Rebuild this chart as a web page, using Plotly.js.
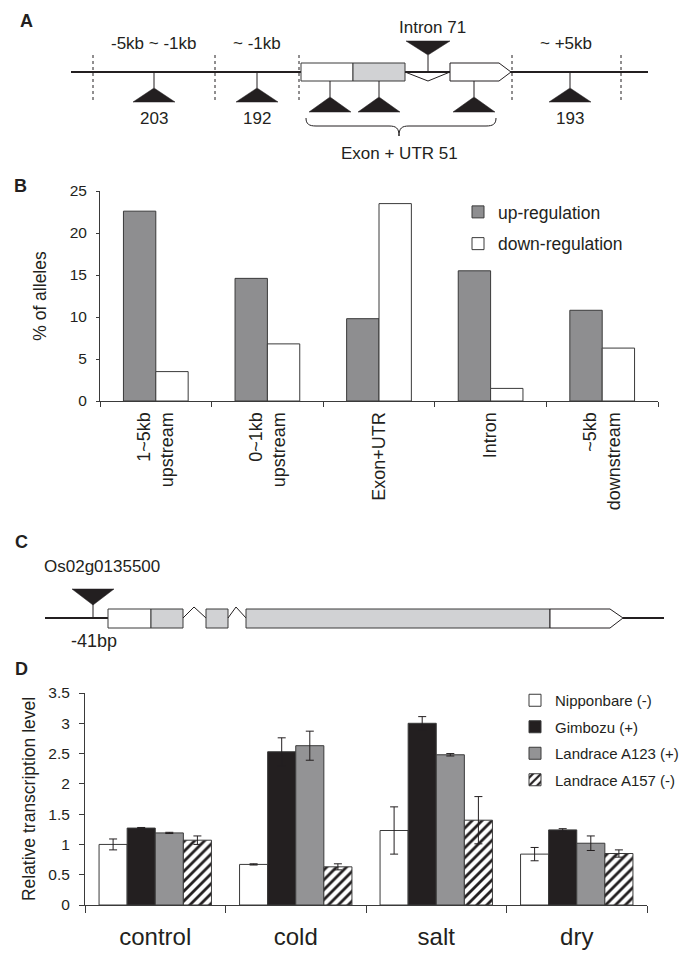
<!DOCTYPE html>
<html><head><meta charset="utf-8">
<script src="https://cdn.plot.ly/plotly-3.0.1.min.js"></script>
<style>html,body{margin:0;padding:0;background:#fff}#chart{width:689px;height:962px}</style>
</head><body><div id="chart"></div>
<script>
// ---------- DATA ----------
// Panel A
const A_regionLabels = ['-5kb ~ -1kb', '~ -1kb', '~ +5kb'];
const A_regionCounts = [203, 192, 193];
const A_intronLabel = 'Intron';
const A_intronCount = 71;
const A_exonLabel = 'Exon + UTR';
const A_exonCount = 51;
// Panel B
const B_categories = ['1~5kb<br>upstream', '0~1kb<br>upstream', 'Exon+UTR', 'Intron', '~5kb<br>downstream'];
const B_up = [22.6, 14.6, 9.8, 15.5, 10.8];
const B_down = [3.5, 6.8, 23.5, 1.5, 6.3];
const B_seriesNames = ['up-regulation', 'down-regulation'];
const B_yTitle = '% of alleles';
const B_yTicks = [0, 5, 10, 15, 20, 25];
// Panel C
const C_gene = 'Os02g0135500';
const C_position = '-41bp';
// Panel D
const D_conditions = ['control', 'cold', 'salt', 'dry'];
const D_names = ['Nipponbare (-)', 'Gimbozu (+)', 'Landrace A123 (+)', 'Landrace A157 (-)'];
const D_nipponbare = [1.00, 0.67, 1.23, 0.84];
const D_nipponbareErr = [0.09, 0.01, 0.39, 0.11];
const D_gimbozu = [1.27, 2.53, 3.00, 1.24];
const D_gimbozuErr = [0.01, 0.23, 0.11, 0.02];
const D_a123 = [1.19, 2.63, 2.48, 1.02];
const D_a123Err = [0.01, 0.24, 0.02, 0.12];
const D_a157 = [1.07, 0.63, 1.40, 0.85];
const D_a157Err = [0.07, 0.05, 0.39, 0.06];
const D_yTitle = 'Relative transcription level';
const D_yTicks = [0, 0.5, 1, 1.5, 2, 2.5, 3, 3.5];

// ---------- STYLE / GEOMETRY ----------
const INK = '#231f20';
const AXIS = '#3a3a3a';
const LIGHTGRAY = '#d1d2d4';
const FONT = 'Liberation Sans, Arial, Helvetica, sans-serif';
const W = 689, H = 962;
const px = v => v / W, py = v => 1 - v / H;

const shapes = [];
const annotations = [];
function line(x0, y0, x1, y1, opts) {
  shapes.push(Object.assign({type: 'line', xref: 'x3', yref: 'y3', x0, y0, x1, y1,
    line: {color: INK, width: 1}}, opts || {}));
}
function path(d, fill, lw) {
  shapes.push({type: 'path', xref: 'x3', yref: 'y3', path: d,
    fillcolor: fill || 'rgba(0,0,0,0)', line: {color: INK, width: lw === undefined ? 1 : lw}});
}
function triUp(x, yApex, h, hw) {
  path(`M${x - hw},${yApex + h} L${x},${yApex} L${x + hw},${yApex + h} Z`, INK, 0.5);
}
function triDown(x, yBase, h, hw) {
  path(`M${x - hw},${yBase} L${x},${yBase + h} L${x + hw},${yBase} Z`, INK, 0.5);
}
function rect(x0, y0, x1, y1, fill) {
  shapes.push({type: 'rect', xref: 'x3', yref: 'y3', x0, y0, x1, y1, fillcolor: fill,
    line: {color: AXIS, width: 1}});
}
function text(x, y, t, size, opts) {
  annotations.push(Object.assign({xref: 'x3', yref: 'y3', x, y, text: t, showarrow: false,
    font: {family: FONT, size: size, color: INK}}, opts || {}));
}

// Panel A geometry
const A_lineY = 72;
line(71, A_lineY, 648, A_lineY, {line: {color: INK, width: 2}});
[93, 215, 299, 512, 621].forEach(x => line(x, 55, x, 100, {line: {color: INK, width: 1, dash: '3px,3px'}}));
const A_regionX = [154, 257, 570];
A_regionX.forEach((x, i) => {
  line(x, A_lineY, x, 88);
  triUp(x, 88, 14, 21);
  text(x, 118, String(A_regionCounts[i]), 17);
});
const A_labelX = [154, 257, 566];
A_labelX.forEach((x, i) => text(x, 43, A_regionLabels[i], 17));
// exons
rect(301, 63, 353, 81, 'white');
rect(353, 63, 405, 81, LIGHTGRAY);
path('M405,72 L428,81 L450,72', null, 1);
path('M450,63 L499,63 L511,72 L499,81 L450,81 Z', 'white', 1);
[330, 379, 474].forEach(x => { line(x, 81, x, 97); triUp(x, 97, 15, 21); });
// intron marker
line(428, 55, 428, 72);
triDown(428, 41, 14, 22);
text(432, 27, A_intronLabel + ' ' + A_intronCount, 17);
// brace
path('M306,118 C306,124 309,126 316,126 L389,126 C396,126 399,128 399,136 C399,128 402,126 409,126 L486,126 C493,126 496,124 496,118', null, 1);
text(399, 153, A_exonLabel + ' ' + A_exonCount, 17);

// Panel C geometry
const C_lineY = 618;
line(45, C_lineY, 108, C_lineY, {line: {color: INK, width: 2}});
line(623, C_lineY, 664, C_lineY, {line: {color: INK, width: 2}});
rect(108, 609, 151, 628, 'white');
rect(151, 609, 183, 628, LIGHTGRAY);
path('M183,618 L194,607 L206,618', null, 1);
rect(206, 609, 228, 628, LIGHTGRAY);
path('M228,618 L236,607 L246,618', null, 1);
rect(246, 609, 550, 628, LIGHTGRAY);
path('M550,609 L610,609 L623,618 L610,628 L550,628 Z', 'white', 1);
line(93, 604, 93, C_lineY);
triDown(93, 589, 16, 21);
text(42, 566, C_gene, 17, {xanchor: 'left'});
text(94, 641, C_position, 18);

// Panel letters
[['A', 26, 21], ['B', 20, 186], ['C', 21, 542], ['D', 21, 669]].forEach(([t, x, y]) =>
  text(x, y, '<b>' + t + '</b>', 18));

// ---------- TRACES ----------
const barLine = {color: AXIS, width: 1};
const errStyle = (arr) => ({type: 'data', array: arr, visible: true, color: INK, thickness: 1, width: 4});
const traces = [
  {type: 'bar', x: B_categories, y: B_up, name: B_seriesNames[0], xaxis: 'x', yaxis: 'y',
   width: 0.29, offset: -0.29, marker: {color: '#8e8e90', line: barLine}, legend: 'legend',
   legendgroup: 'bu'},
  {type: 'bar', x: B_categories, y: B_down, name: B_seriesNames[1], xaxis: 'x', yaxis: 'y',
   width: 0.29, offset: 0, marker: {color: 'white', line: barLine}, legend: 'legend',
   legendgroup: 'bd'},
  {type: 'bar', x: D_conditions, y: D_nipponbare, name: D_names[0], xaxis: 'x2', yaxis: 'y2',
   width: 0.2, offset: -0.4, marker: {color: 'white', line: barLine}, legend: 'legend2',
   legendgroup: 'd0', error_y: errStyle(D_nipponbareErr)},
  {type: 'bar', x: D_conditions, y: D_gimbozu, name: D_names[1], xaxis: 'x2', yaxis: 'y2',
   width: 0.2, offset: -0.2, marker: {color: INK, line: barLine}, legend: 'legend2',
   legendgroup: 'd1', error_y: errStyle(D_gimbozuErr)},
  {type: 'bar', x: D_conditions, y: D_a123, name: D_names[2], xaxis: 'x2', yaxis: 'y2',
   width: 0.2, offset: 0, marker: {color: '#939395', line: barLine}, legend: 'legend2',
   legendgroup: 'd2', error_y: errStyle(D_a123Err)},
  {type: 'bar', x: D_conditions, y: D_a157, name: D_names[3], xaxis: 'x2', yaxis: 'y2',
   width: 0.2, offset: 0.2, legend: 'legend2', legendgroup: 'd3',
   marker: {color: 'white', line: barLine,
     pattern: {shape: '/', fgcolor: INK, bgcolor: 'white', size: 7, solidity: 0.4}},
   error_y: errStyle(D_a157Err)},
  {type: 'scatter', x: [], y: [], xaxis: 'x3', yaxis: 'y3', showlegend: false, hoverinfo: 'skip'}
];

const axCommon = {showgrid: false, zeroline: false, showline: true, linecolor: AXIS, linewidth: 1,
  ticks: 'outside', tickcolor: AXIS, tickwidth: 1, fixedrange: true};

const layout = {
  width: W, height: H, margin: {l: 0, r: 0, t: 0, b: 0},
  paper_bgcolor: 'white', plot_bgcolor: 'rgba(0,0,0,0)',
  font: {family: FONT, color: INK},
  barmode: 'overlay', showlegend: true,
  xaxis: Object.assign({}, axCommon, {domain: [px(100), px(658)], anchor: 'y', type: 'category',
    tickson: 'boundaries', ticklen: 5, tickangle: -90, ticklabelstandoff: 3,
    tickfont: {size: 18, color: INK}, range: [-0.5, 4.5]}),
  yaxis: Object.assign({}, axCommon, {domain: [py(401), py(191)], anchor: 'x', range: [0, 25],
    tickvals: B_yTicks, ticklen: 3, ticklabelstandoff: 6, tickfont: {size: 15.5, color: INK},
    title: {text: B_yTitle, font: {size: 17.5, color: INK}, standoff: 18}}),
  xaxis2: Object.assign({}, axCommon, {domain: [px(85), px(647)], anchor: 'y2', type: 'category',
    tickson: 'boundaries', ticklen: 7, ticklabelstandoff: 10,
    tickfont: {size: 24, color: INK}, range: [-0.5, 3.5]}),
  yaxis2: Object.assign({}, axCommon, {domain: [py(905), py(693)], anchor: 'x2', range: [0, 3.5],
    tickvals: D_yTicks, ticktext: D_yTicks.map(String), ticklen: 5, ticklabelstandoff: 6,
    tickfont: {size: 15.5, color: INK},
    title: {text: D_yTitle, font: {size: 17.5, color: INK}, standoff: 8}}),
  xaxis3: {domain: [0, 1], range: [0, W], visible: false, fixedrange: true, anchor: 'y3'},
  yaxis3: {domain: [0, 1], range: [H, 0], visible: false, fixedrange: true, anchor: 'x3'},
  legend: {x: px(458), y: py(194), xanchor: 'left', yanchor: 'top', bgcolor: 'rgba(0,0,0,0)',
    font: {size: 17.5, color: INK}, tracegroupgap: 6, traceorder: 'grouped'},
  legend2: {x: px(515), y: py(684), xanchor: 'left', yanchor: 'top', bgcolor: 'rgba(0,0,0,0)',
    font: {size: 15, color: INK}, tracegroupgap: 4, traceorder: 'grouped'},
  shapes: shapes,
  annotations: annotations
};

Plotly.newPlot('chart', traces, layout, {staticPlot: true, displayModeBar: false});
</script>
</body></html>
